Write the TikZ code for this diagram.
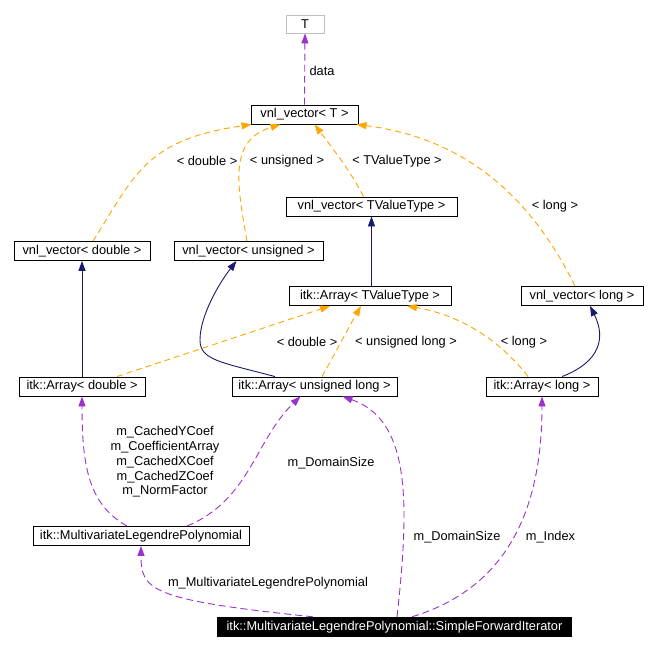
\documentclass[tikz,border=0pt]{standalone}
\usepackage{fontspec}
\setmainfont{Liberation Sans}
\usetikzlibrary{arrows.meta}
\definecolor{edgeorange}{RGB}{255,165,0}
\definecolor{edgepurple}{RGB}{154,50,205}
\definecolor{edgenavy}{RGB}{25,25,112}
\begin{document}
\begin{tikzpicture}[x=1pt,y=-1pt,
  every node/.style={font=\fontsize{12.8}{14.7}\selectfont, inner sep=0pt},
  box/.style={draw=black, line width=0.9pt, minimum height=19pt, align=center},
  lbl/.style={align=center},
  tip/.style={-{Triangle[length=10pt,width=7pt]}},
  inh/.style={tip, draw=edgenavy, line width=0.9pt},
  tmpl/.style={tip, draw=edgeorange, line width=0.9pt, dash pattern=on 6pt off 4pt},
  use/.style={tip, draw=edgepurple, line width=0.9pt, dash pattern=on 7pt off 4pt}]
\useasboundingbox (0,0) rectangle (657,651);
\fill[white] (0,0) rectangle (657,651);

% nodes
\node[box, draw=black!25, minimum width=38pt, minimum height=18pt] (T) at (305,24) {T};
\node[box, minimum width=107pt] (vT) at (304.5,114.5) {vnl\_vector< T >};
\node[box, minimum width=171pt] (vTV) at (371.5,206.5) {vnl\_vector< TValueType >};
\node[box, minimum width=136pt] (vd) at (82,251) {vnl\_vector< double >};
\node[box, minimum width=149pt] (vu) at (248.5,251) {vnl\_vector< unsigned >};
\node[box, minimum width=162pt] (ATV) at (370,296) {itk::Array< TValueType >};
\node[box, minimum width=122pt] (vl) at (582,296) {vnl\_vector< long >};
\node[box, minimum width=126pt] (Ad) at (82,386.5) {itk::Array< double >};
\node[box, minimum width=165pt] (Aul) at (314.5,386.5) {itk::Array< unsigned long >};
\node[box, minimum width=112pt] (Al) at (542,386.5) {itk::Array< long >};
\node[box, minimum width=216pt] (MLP) at (141,536) {itk::MultivariateLegendrePolynomial};
\node[fill=black, text=white, minimum width=355pt, minimum height=20pt] (SFI) at (394.5,627) {itk::MultivariateLegendrePolynomial::SimpleForwardIterator};

% T <- vnl_vector<T>
\draw[use] (vT.north) -- (T.south);
\node[lbl] (ldata) at (322,71) {data};

% template instantiations to vnl_vector<T>
\draw[tmpl] ([xshift=11pt]vd.north) .. controls (135,175) and (145,140) .. ([xshift=-53pt]vT.south);
\node[lbl] (l1) at (207,161) {< double >};
\draw[tmpl] ([xshift=-1.5pt]vu.north) .. controls (236,180) and (230,140) .. ([xshift=-24pt]vT.south);
\node[lbl] (l2) at (287,161) {< unsigned >};
\draw[tmpl] ([xshift=-8pt]vTV.north) .. controls (350,170) and (330,145) .. ([xshift=10pt]vT.south);
\node[lbl] (l3) at (397,161) {< TValueType >};
\draw[tmpl] ([xshift=-7pt]vl.north) .. controls (540,215) and (480,140) .. ([xshift=52pt]vT.south);
\node[lbl] (l4) at (555,206) {< long >};

% inheritance (navy)
\draw[inh] (ATV.north -| vTV.south) -- (vTV.south);
\draw[inh] (Ad.north) -- (vd.south);
\draw[inh] ([xshift=-39.5pt]Aul.north) .. controls (220,362) and (200,360) .. (200,340)
  .. controls (200,315) and (220,282) .. ([xshift=-12pt]vu.south);
\draw[inh] ([xshift=20pt]Al.north) .. controls (600,362) and (606,338) .. ([xshift=8pt]vl.south);

% template instantiations to itk::Array<TValueType>
\draw[tmpl] ([xshift=35pt]Ad.north) -- ([xshift=-40pt]ATV.south);
\node[lbl] (l5) at (307,342) {< double >};
\draw[tmpl] ([xshift=7.5pt]Aul.north) .. controls (338,348) and (350,325) .. ([xshift=-9pt]ATV.south);
\node[lbl] (l6) at (406,342) {< unsigned long >};
\draw[tmpl] ([xshift=-14pt]Al.north) .. controls (500,340) and (460,315) .. ([xshift=37pt]ATV.south);
\node[lbl] (l7) at (524,342) {< long >};

% usage (purple)
\draw[use] ([xshift=-14pt]MLP.north) .. controls (90,505) and (82,470) .. (Ad.south);
\node[lbl] (l8) at (165,462) {m\_CachedYCoef\\m\_CoefficientArray\\m\_CachedXCoef\\m\_CachedZCoef\\m\_NormFactor};
\draw[use] ([xshift=46pt]MLP.north) .. controls (250,500) and (255,440) .. ([xshift=-14pt]Aul.south);
\node[lbl] (l9) at (331,463) {m\_DomainSize};
\draw[use] ([xshift=2.5pt]SFI.north) .. controls (410,500) and (410,420) .. ([xshift=28pt]Aul.south);
\node[lbl] (l10) at (457,537) {m\_DomainSize};
\draw[use] ([xshift=17.5pt]SFI.north) .. controls (500,590) and (542,520) .. (Al.south);
\node[lbl] (l11) at (550.5,537) {m\_Index};
\draw[use] ([xshift=-81.5pt]SFI.north) .. controls (150,600) and (141,590) .. (MLP.south);
\node[lbl] (l12) at (268,583) {m\_MultivariateLegendrePolynomial};
\end{tikzpicture}
\end{document}
